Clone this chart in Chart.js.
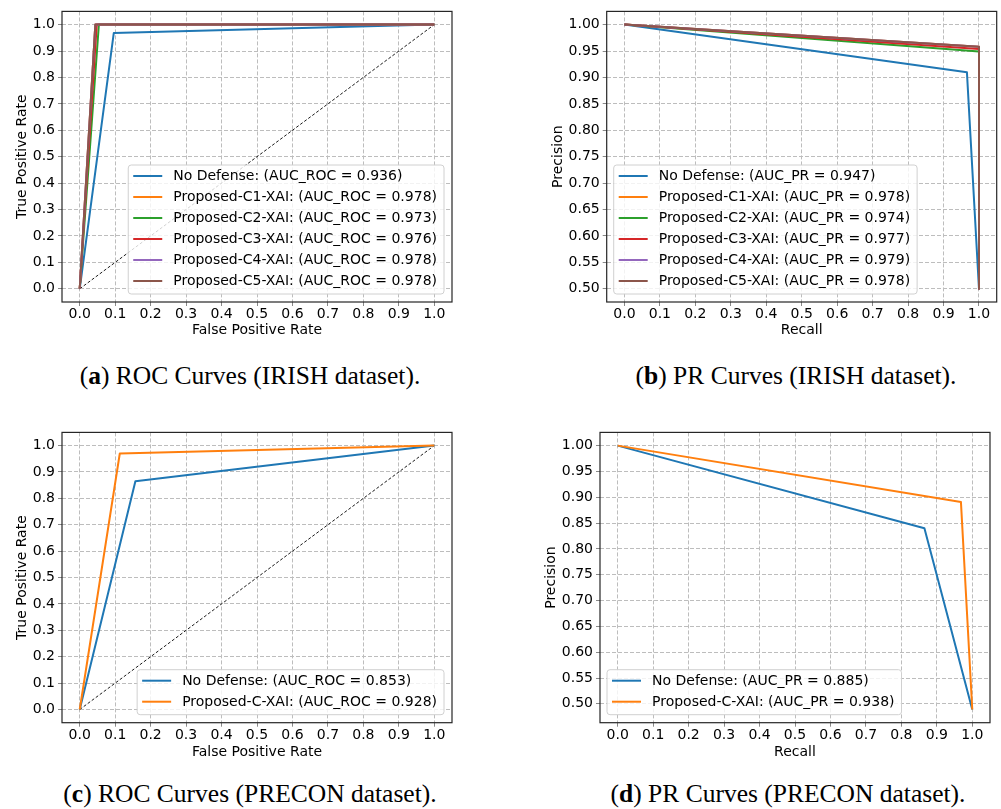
<!DOCTYPE html>
<html>
<head>
<meta charset="utf-8">
<script src="https://cdn.jsdelivr.net/npm/chart.js@4.4.0/dist/chart.umd.min.js"></script>
<style>
  body { margin: 0; background: #fff; }
  #page { position: relative; width: 1001px; height: 809px; overflow: hidden; background: #fff; }
  canvas { position: absolute; }
  .cap { position: absolute; width: 500px; text-align: center; white-space: nowrap;
         font-family: "Liberation Serif", serif; font-size: 25.5px; line-height: 30px; color: #000; }
</style>
</head>
<body>
<div id="page">
  <canvas id="rocIrish" width="500" height="340" style="left:0;top:0"></canvas>
  <canvas id="prIrish" width="501" height="340" style="left:500px;top:0"></canvas>
  <canvas id="rocPrecon" width="500" height="340" style="left:0;top:421px"></canvas>
  <canvas id="prPrecon" width="501" height="340" style="left:500px;top:421px"></canvas>
  <div class="cap" style="left:0;top:361px">(<b>a</b>) ROC Curves (IRISH dataset).</div>
  <div class="cap" style="left:546px;top:361px">(<b>b</b>) PR Curves (IRISH dataset).</div>
  <div class="cap" style="left:0;top:779px">(<b>c</b>) ROC Curves (PRECON dataset).</div>
  <div class="cap" style="left:538px;top:779px">(<b>d</b>) PR Curves (PRECON dataset).</div>
</div>
<script>
// tick values
const unitTicks = [0.0, 0.1, 0.2, 0.3, 0.4, 0.5, 0.6, 0.7, 0.8, 0.9, 1.0];
const prTicks = [0.50, 0.55, 0.60, 0.65, 0.70, 0.75, 0.80, 0.85, 0.90, 0.95, 1.00];

// IRISH dataset
const irishNames = ['No Defense', 'Proposed-C1-XAI', 'Proposed-C2-XAI', 'Proposed-C3-XAI', 'Proposed-C4-XAI', 'Proposed-C5-XAI'];
const irishAucRoc = [0.936, 0.978, 0.973, 0.976, 0.978, 0.978];
const irishAucPr = [0.947, 0.978, 0.974, 0.977, 0.979, 0.978];
const irishFpr = [[0, 0.096, 1], [0, 0.044, 1], [0, 0.054, 1], [0, 0.048, 1], [0, 0.044, 1], [0, 0.044, 1]];
const irishTpr = [[0, 0.968, 1], [0, 1, 1], [0, 1, 1], [0, 1, 1], [0, 1, 1], [0, 1, 1]];
const irishRecall = [[0, 0.966, 1], [0, 1, 1], [0, 1, 1], [0, 1, 1], [0, 1, 1], [0, 1, 1]];
const irishPrecision = [[1, 0.910, 0.5], [1, 0.958, 0.5], [1, 0.949, 0.5], [1, 0.954, 0.5], [1, 0.958, 0.5], [1, 0.958, 0.5]];

// PRECON dataset
const preconNames = ['No Defense', 'Proposed-C-XAI'];
const preconAucRoc = [0.853, 0.928];
const preconAucPr = [0.885, 0.938];
const preconFpr = [[0, 0.157, 1], [0, 0.113, 1]];
const preconTpr = [[0, 0.865, 1], [0, 0.970, 1]];
const preconRecall = [[0, 0.865, 1], [0, 0.968, 1]];
const preconPrecision = [[1, 0.840, 0.489], [1, 0.891, 0.489]];

// chance diagonal
const chanceX = [0, 1];
const chanceY = [0, 1];

const colors = ['#1f77b4', '#ff7f0e', '#2ca02c', '#d62728', '#9467bd', '#8c564b'];
const FONT = '"DejaVu Sans", sans-serif';
const FS = 14;

function curveSets(names, aucName, aucs, xs, ys) {
  return names.map((n, i) => ({
    label: n + ': (' + aucName + ' = ' + aucs[i].toFixed(3) + ')',
    data: xs[i].map((x, j) => ({ x: x, y: ys[i][j] })),
    borderColor: colors[i],
    borderWidth: 2,
    order: names.length - i,
    inLegend: true
  }));
}

function chanceSet() {
  return {
    label: '',
    data: chanceX.map((x, j) => ({ x: x, y: chanceY[j] })),
    borderColor: '#000',
    borderWidth: 0.9,
    borderDash: [3, 2],
    order: 99
  };
}

// spines + legend box like matplotlib
const frameLegend = {
  id: 'frameLegend',
  afterDraw(chart, args, opts) {
    const ctx = chart.ctx, a = chart.chartArea;
    ctx.save();
    ctx.strokeStyle = '#262626';
    ctx.lineWidth = 1.2;
    ctx.strokeRect(a.left, a.top, a.right - a.left, a.bottom - a.top);

    const items = chart.data.datasets.filter(d => d.inLegend);
    ctx.font = FS + 'px ' + FONT;
    const tw = Math.max(...items.map(d => ctx.measureText(d.label).width));
    const w = 45 + tw + 7, h = 11 + (items.length - 1) * 21 + 13;
    const x = opts.loc === 'left' ? a.left + 7 : a.right - 8 - w;
    const y = a.bottom - 8 - h;
    ctx.beginPath();
    ctx.roundRect(x, y, w, h, 3);
    ctx.fillStyle = 'rgba(255,255,255,0.8)';
    ctx.fill();
    ctx.strokeStyle = '#d0d0d0';
    ctx.lineWidth = 1;
    ctx.stroke();
    items.forEach((d, i) => {
      const cy = y + 11 + i * 21;
      ctx.beginPath();
      ctx.moveTo(x + 5, cy);
      ctx.lineTo(x + 34, cy);
      ctx.strokeStyle = d.borderColor;
      ctx.lineWidth = 2;
      ctx.stroke();
      ctx.fillStyle = '#000';
      ctx.textBaseline = 'middle';
      ctx.textAlign = 'left';
      ctx.fillText(d.label, x + 45, cy + 0.5);
    });
    ctx.restore();
  }
};

function makeChart(id, datasets, g) {
  new Chart(document.getElementById(id), {
    type: 'line',
    data: { datasets: datasets },
    options: {
      responsive: false,
      animation: false,
      devicePixelRatio: 1,
      layout: { padding: { left: 0, top: g.padT, right: g.padR, bottom: 0 } },
      elements: { point: { radius: 0 }, line: { tension: 0, borderJoinStyle: 'round' } },
      plugins: {
        legend: { display: false },
        tooltip: { enabled: false },
        frameLegend: { loc: g.loc }
      },
      scales: {
        x: {
          type: 'linear',
          min: -0.05, max: 1.05,
          afterBuildTicks: s => { s.ticks = unitTicks.map(v => ({ value: v })); },
          afterFit: s => { s.height = g.xH; },
          ticks: { autoSkip: false, maxRotation: 0, padding: 0, color: '#000',
                   font: { family: FONT, size: FS }, callback: v => v.toFixed(1) },
          grid: { color: '#bdbdbd', lineWidth: 1, tickLength: 4, tickColor: '#888' },
          border: { display: false, dash: [4, 2] },
          title: { display: true, text: g.xTitle, color: '#000', font: { family: FONT, size: FS },
                   padding: { top: 0, bottom: g.xTitlePad } }
        },
        y: {
          type: 'linear',
          min: g.yMin, max: g.yMax,
          afterBuildTicks: s => { s.ticks = g.yTicks.map(v => ({ value: v })); },
          afterFit: s => { s.width = g.yW; },
          ticks: { autoSkip: false, padding: 3, color: '#000',
                   font: { family: FONT, size: FS }, callback: v => v.toFixed(g.dec) },
          grid: { color: '#bdbdbd', lineWidth: 1, tickLength: 4, tickColor: '#888' },
          border: { display: false, dash: [4, 2] },
          title: { display: true, text: g.yTitle, color: '#000', font: { family: FONT, size: FS },
                   padding: { top: g.yTitlePad, bottom: 0 } }
        }
      }
    },
    plugins: [frameLegend]
  });
}

makeChart('rocIrish',
  [chanceSet()].concat(curveSets(irishNames, 'AUC_ROC', irishAucRoc, irishFpr, irishTpr)),
  { padT: 11, padR: 48, yW: 62, xH: 38, xTitlePad: 1.6, yTitlePad: 13.6, yMin: -0.05, yMax: 1.05,
    yTicks: unitTicks, dec: 1, loc: 'right', xTitle: 'False Positive Rate', yTitle: 'True Positive Rate' });

makeChart('prIrish',
  curveSets(irishNames, 'AUC_PR', irishAucPr, irishRecall, irishPrecision),
  { padT: 11, padR: 4.3, yW: 106.7, xH: 38, xTitlePad: 1.6, yTitlePad: 49.9, yMin: 0.475, yMax: 1.025,
    yTicks: prTicks, dec: 2, loc: 'left', xTitle: 'Recall', yTitle: 'Precision' });

makeChart('rocPrecon',
  [chanceSet()].concat(curveSets(preconNames, 'AUC_ROC', preconAucRoc, preconFpr, preconTpr)),
  { padT: 11.3, padR: 48, yW: 62, xH: 38.3, xTitlePad: 0.3, yTitlePad: 13.6, yMin: -0.05, yMax: 1.05,
    yTicks: unitTicks, dec: 1, loc: 'right', xTitle: 'False Positive Rate', yTitle: 'True Positive Rate' });

makeChart('prPrecon',
  curveSets(preconNames, 'AUC_PR', preconAucPr, preconRecall, preconPrecision),
  { padT: 11.3, padR: 11, yW: 100, xH: 38.3, xTitlePad: 0.3, yTitlePad: 43.3, yMin: 0.4635, yMax: 1.0256,
    yTicks: prTicks, dec: 2, loc: 'left', xTitle: 'Recall', yTitle: 'Precision' });
</script>
</body>
</html>
